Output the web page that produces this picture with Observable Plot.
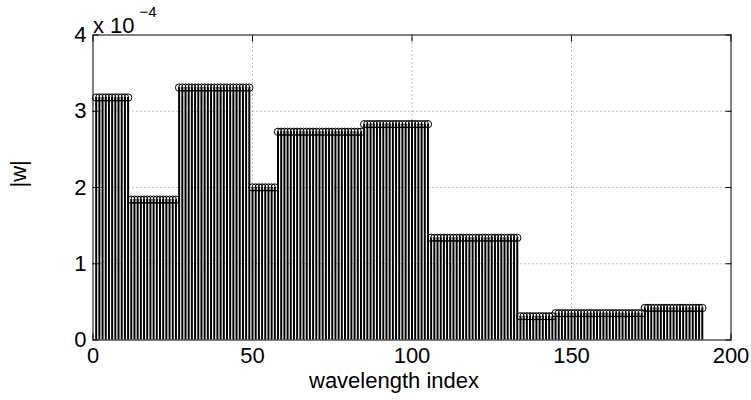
<!DOCTYPE html>
<html><head><meta charset="utf-8">
<script src="https://cdn.jsdelivr.net/npm/d3@7"></script>
<script src="https://cdn.jsdelivr.net/npm/@observablehq/plot@0.6"></script>
<style>body{margin:0;background:#fff} #chart svg{font-family:"Liberation Sans",Arial,Helvetica,sans-serif;background:#fff}</style>
</head><body><div id="chart"></div>
<script>
// piecewise-constant groups of the stem plot (first index, last index, |w| value)
const groupFirst = [1, 12, 27, 50, 58, 85, 106, 134, 145, 173];
const groupLast  = [11, 26, 49, 57, 84, 105, 133, 144, 172, 191];
const groupValue = [3.18e-4, 1.84e-4, 3.31e-4, 2.00e-4, 2.73e-4, 2.83e-4, 1.34e-4, 0.31e-4, 0.35e-4, 0.42e-4];
const xTicks = [0, 50, 100, 150, 200];
const yTicks = [0, 1e-4, 2e-4, 3e-4, 4e-4];
const xGrid = [50, 100, 150];
const yGrid = [1e-4, 2e-4, 3e-4];
const xLabel = "wavelength index";
const yLabel = "|w|";
const expBase = "x 10";
const expPower = "\u22124";

const stems = [];
groupFirst.forEach((f, g) => {
  for (let i = f; i <= groupLast[g]; i++) stems.push({i, v: groupValue[g]});
});

const fs = 22;
const chart = Plot.plot({
  width: 751, height: 400,
  marginLeft: 92.5, marginRight: 20.5, marginTop: 34.5, marginBottom: 60.5,
  x: {domain: [0, 200]},
  y: {domain: [0, 4e-4]},
  style: {fontFamily: '"Liberation Sans", Arial, sans-serif', color: "black"},
  marks: [
    Plot.ruleX(xGrid, {x: d => d, stroke: "#000", strokeOpacity: 0.5, strokeDasharray: "1,3", strokeWidth: 1}),
    Plot.ruleY(yGrid, {y: d => d, stroke: "#000", strokeOpacity: 0.5, strokeDasharray: "1,3", strokeWidth: 1}),
    Plot.ruleX(stems, {x: "i", y1: 0, y2: "v", stroke: "black", strokeWidth: 2}),
    Plot.dot(stems, {x: "i", y: "v", r: 3.7, stroke: "black", fill: "none", strokeWidth: 1}),
    Plot.frame({stroke: "black", strokeWidth: 1}),
    Plot.axisX(xTicks, {anchor: "bottom", tickSize: 0, tickPadding: 7.5, fontSize: fs, tickFormat: d => String(d), label: null}),
    Plot.axisX(xTicks, {anchor: "bottom", tickSize: -6, tickFormat: () => "", label: null}),
    Plot.axisX(xTicks, {anchor: "top", tickSize: -6, tickFormat: () => "", label: null}),
    Plot.axisY(yTicks, {anchor: "left", tickSize: 0, tickPadding: 6.5, fontSize: fs, tickFormat: d => String(Math.round(d * 1e4)), label: null}),
    Plot.axisY(yTicks, {anchor: "left", tickSize: -6, tickFormat: () => "", label: null}),
    Plot.axisY(yTicks, {anchor: "right", tickSize: -6, tickFormat: () => "", label: null}),
    Plot.text([xLabel], {text: d => d, frameAnchor: "bottom", dx: -18, dy: 32.5, lineAnchor: "top", fontSize: fs, fill: "black"}),
    Plot.text([yLabel], {text: d => d, frameAnchor: "left", dx: -74, rotate: -90, fontSize: fs, fill: "black"}),
    Plot.text([expBase], {text: d => d, frameAnchor: "top-left", textAnchor: "start", lineAnchor: "bottom", dx: 0, dy: -2.5, fontSize: fs, fill: "black"}),
    Plot.text([expPower], {text: d => d, frameAnchor: "top-left", textAnchor: "start", lineAnchor: "bottom", dx: 46.5, dy: -18.5, fontSize: 15, fill: "black"})
  ]
});
document.getElementById("chart").appendChild(chart);
</script>
</body></html>
